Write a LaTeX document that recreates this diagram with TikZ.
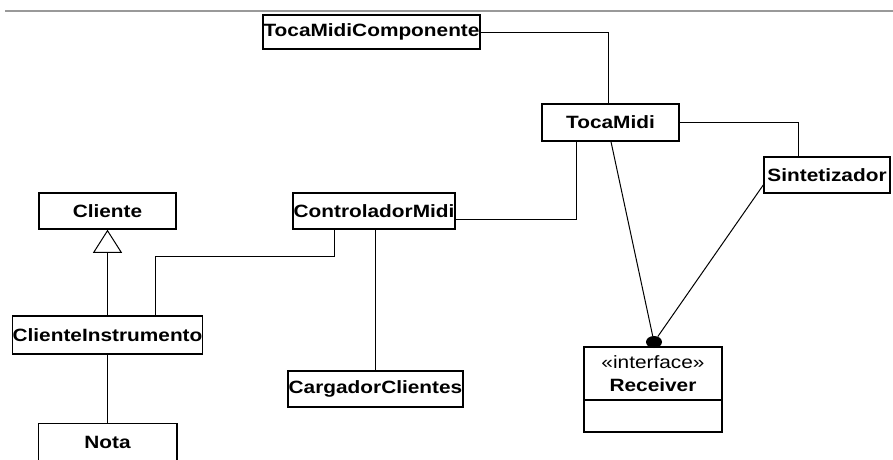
\documentclass[tikz,border=0pt]{standalone}
\usepackage{fontspec}
\newfontfamily\umlfont[FakeStretch=1.17]{Liberation Sans}
\usetikzlibrary{arrows.meta,shapes.geometric}
\definecolor{rulegray}{RGB}{153,153,153}
\begin{document}
\begin{tikzpicture}[x=1pt,y=-1pt,
  umltext/.style={font=\umlfont\fontsize{17.8}{20}\selectfont},
  classbox/.style={draw, line width=1.5pt, inner sep=0pt, align=center,
    font=\umlfont\fontsize{17.8}{20}\selectfont\bfseries},
  link/.style={draw, line width=1pt}]
\clip (0,0) rectangle (893,459);
\fill[white] (0,0) rectangle (893,459);

% header rule
\draw[line width=2pt, rulegray] (5,11) -- (893,11);

% classes
\node[classbox, minimum width=217pt, minimum height=34pt] (tmc)  at (371.5,32)  {TocaMidiComponente};
\node[classbox, minimum width=137pt, minimum height=37pt] (tm)   at (610.5,122.5) {TocaMidi};
\node[classbox, minimum width=126pt, minimum height=36pt] (sin)  at (827,175)   {Sintetizador};
\node[classbox, minimum width=162pt, minimum height=36pt] (cm)   at (374,211)   {ControladorMidi};
\node[classbox, minimum width=137pt, minimum height=36pt] (cl)   at (107.5,211) {Cliente};
\node[classbox, minimum width=189pt, minimum height=38pt] (ci)   at (107.5,335) {ClienteInstrumento};
\node[classbox, minimum width=175pt, minimum height=36pt] (cc)   at (375.5,389) {CargadorClientes};
% Nota continues below the lower edge
\node[classbox, draw=none, minimum width=137pt, minimum height=36pt] (nota) at (107.5,442) {Nota};
\draw[line width=1.5pt] ([yshift=-20pt]nota.south west) |- (nota.north east) -- ([yshift=-20pt]nota.south east);

% interface Receiver with an empty compartment
\node[draw, line width=1.5pt, minimum width=138pt, minimum height=85pt, inner sep=0pt] (rec) at (653,389.5) {};
\draw[line width=1.5pt] ([yshift=-10.5pt]rec.west) -- ([yshift=-10.5pt]rec.east);
\node[umltext, inner sep=0pt] (recst) at (653,362) {«interface»};
\node[umltext, inner sep=0pt, font=\umlfont\fontsize{17.8}{20}\selectfont\bfseries] (recname) at (653,385) {Receiver};

% realization ball
\node[ellipse, fill=black, minimum width=16pt, minimum height=12pt, inner sep=0pt] (dot) at (654,342) {};

% associations
\draw[link] (tmc.east) -| ([xshift=-2.5pt]tm.north);
\draw[link] (tm.east) -| ([xshift=-29pt]sin.north);
\draw[link] ([yshift=-8pt]cm.east) -| ([xshift=-34.5pt]tm.south);
\draw[link] ([xshift=0.5pt]tm.south) -- (dot);
\draw[link] ([yshift=-10pt]sin.west) -- (dot);
\draw[link] ([xshift=-40pt]cm.south) -- ++(0,27) -| ([xshift=47.5pt]ci.north);
\draw[link] ([xshift=1pt]cm.south) -- ++(0,27) -| (cc.north);
\draw[link] (ci.south) -- (nota.north);

% generalization
\draw[link, -{Triangle[open, length=23pt, width=29pt]}] (ci.north) -- (cl.south);
\end{tikzpicture}
\end{document}
